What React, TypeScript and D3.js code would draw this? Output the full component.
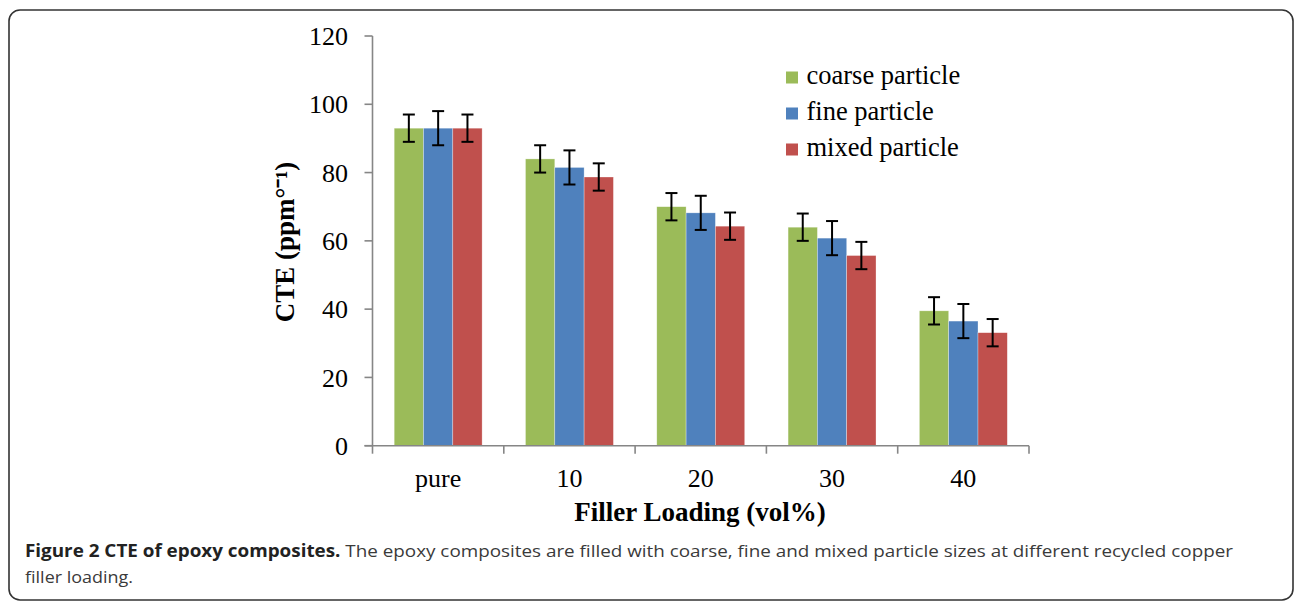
import React from "react";
import * as d3 from "d3";

const categories = ["pure", "10", "20", "30", "40"];
const seriesNames = ["coarse particle", "fine particle", "mixed particle"];
const coarse = [93, 84, 70, 64, 39.5];
const fine = [93, 81.5, 68.2, 60.8, 36.5];
const mixed = [93, 78.7, 64.3, 55.7, 33.1];
const coarseErr = [4, 4, 4, 4, 4];
const fineErr = [5, 5, 5, 5, 5];
const mixedErr = [4, 4, 4, 4, 4];
const yTicks = [0, 20, 40, 60, 80, 100, 120];
const colors = ["#9BBB59", "#4F81BD", "#C0504D"];

const values = [coarse, fine, mixed];
const errors = [coarseErr, fineErr, mixedErr];

export default function App() {
  const W = 1295, H = 605;
  const left = 372.5, right = 1029, top = 36, bottom = 445.7;
  const y = d3.scaleLinear().domain([0, 120]).range([bottom, top]);
  const x0 = d3.scaleBand().domain(categories).range([left, right]).paddingInner(0).paddingOuter(0);
  const x1 = d3.scaleBand().domain(seriesNames).range([0, x0.bandwidth()]).paddingInner(0).paddingOuter(0.74);
  const axisColor = "#868686";
  const serif = "'Liberation Serif', 'Times New Roman', serif";
  const boundaries = categories.map((c) => x0(c) as number).concat([right]);

  return (
    <svg width={W} height={H} style={{ position: "absolute", left: 0, top: 0 }}>
      <rect x={0} y={0} width={W} height={H} fill="#fff" />
      <rect x={9} y={10} width={1284} height={590} rx={11} ry={11} fill="none" stroke="#333" strokeWidth={1.6} />

      {/* bars */}
      {categories.map((c, ci) => (
        <g key={c}>
          {seriesNames.map((s, si) => {
            const bx = (x0(c) as number) + (x1(s) as number);
            const bw = x1.bandwidth();
            const v = values[si][ci];
            return (
              <rect key={s} x={bx} y={y(v)} width={bw} height={bottom - y(v)} fill={colors[si]} stroke="#fff" strokeOpacity={0.5} strokeWidth={0.6} />
            );
          })}
        </g>
      ))}

      {/* error bars */}
      {categories.map((c, ci) => (
        <g key={"e" + c} stroke="#000" strokeWidth={2}>
          {seriesNames.map((s, si) => {
            const cx = (x0(c) as number) + (x1(s) as number) + x1.bandwidth() / 2;
            const v = values[si][ci];
            const e = errors[si][ci];
            const y1 = y(v + e), y2 = y(v - e);
            return (
              <g key={s}>
                <line x1={cx} x2={cx} y1={y1} y2={y2} />
                <line x1={cx - 6} x2={cx + 6} y1={y1} y2={y1} />
                <line x1={cx - 6} x2={cx + 6} y1={y2} y2={y2} />
              </g>
            );
          })}
        </g>
      ))}

      {/* y axis */}
      <line x1={left} x2={left} y1={top} y2={bottom} stroke={axisColor} strokeWidth={1.6} />
      {yTicks.map((t) => (
        <g key={t}>
          <line x1={left - 8} x2={left} y1={y(t)} y2={y(t)} stroke={axisColor} strokeWidth={1.6} />
          <text x={348} y={y(t)} dy="0.35em" textAnchor="end" fontFamily={serif} fontSize={26} fill="#000">
            {t}
          </text>
        </g>
      ))}

      {/* x axis */}
      <line x1={left - 8} x2={right} y1={bottom} y2={bottom} stroke={axisColor} strokeWidth={1.6} />
      {boundaries.map((b, i) => (
        <line key={i} x1={b} x2={b} y1={bottom} y2={bottom + 8} stroke={axisColor} strokeWidth={1.6} />
      ))}
      {categories.map((c) => (
        <text key={c} x={(x0(c) as number) + x0.bandwidth() / 2} y={487} textAnchor="middle" fontFamily={serif} fontSize={26} fill="#000">
          {c}
        </text>
      ))}

      {/* axis titles */}
      <text x={700} y={521} textAnchor="middle" fontFamily={serif} fontSize={27} fontWeight="bold" fill="#000">
        Filler Loading (vol%)
      </text>
      <text transform="translate(294,242) rotate(-90)" textAnchor="middle" fontFamily={serif} fontSize={27} fontWeight="bold" fill="#000">
        CTE (ppm°⁻¹)
      </text>

      {/* legend */}
      {seriesNames.map((s, i) => (
        <g key={s}>
          <rect x={786} y={71.5 + i * 36} width={12} height={12} fill={colors[i]} />
          <text x={806.5} y={83.5 + i * 36} fontFamily={serif} fontSize={26.5} fill="#000">
            {s}
          </text>
        </g>
      ))}

      {/* caption */}
      <text x={25} y={557} fontFamily="'Open Sans', sans-serif" fontSize={17} fill="#3a3a3a" textLength={1208} lengthAdjust="spacingAndGlyphs">
        <tspan fontWeight="bold" fill="#222">Figure 2 CTE of epoxy composites.</tspan>
        <tspan> The epoxy composites are filled with coarse, fine and mixed particle sizes at different recycled copper</tspan>
      </text>
      <text x={25} y={583} fontFamily="'Open Sans', sans-serif" fontSize={17} fill="#3a3a3a" textLength={108} lengthAdjust="spacingAndGlyphs">
        filler loading.
      </text>
    </svg>
  );
}
